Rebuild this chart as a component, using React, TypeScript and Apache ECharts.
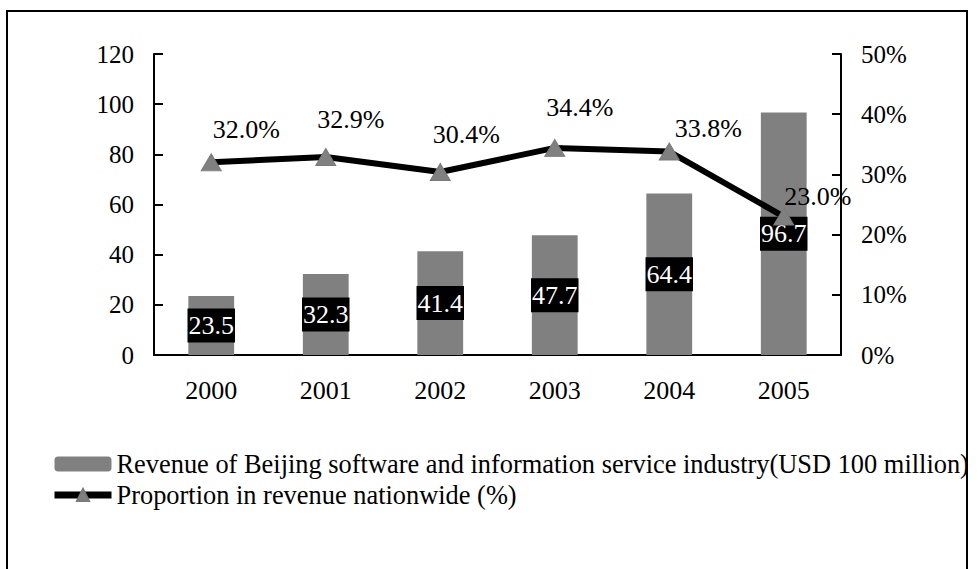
import React, { useEffect, useRef } from "react";
import * as echarts from "echarts";

const years = ["2000", "2001", "2002", "2003", "2004", "2005"];
const revenue = [23.5, 32.3, 41.4, 47.7, 64.4, 96.7];
const proportion = [32.0, 32.9, 30.4, 34.4, 33.8, 23.0];
const leftTicks = { min: 0, max: 120, interval: 20 };
const rightTicks = { min: 0, max: 50, interval: 10 };
const revenueName =
  "Revenue of Beijing software and information service industry(USD 100 million)";
const proportionName = "Proportion in revenue nationwide (%)";

// label nudges (style only)
const lineLabelOffsets = [
  [35, -33],
  [25, -37],
  [26, -37],
  [25, -40],
  [39, -23],
  [34, -20],
];

const FONT = "Liberation Serif, Times New Roman, serif";

export default function App() {
  const ref = useRef<HTMLDivElement>(null);
  useEffect(() => {
    if (!ref.current) return;
    const chart = echarts.init(ref.current, null, { renderer: "svg" });
    chart.setOption({
      animation: false,
      backgroundColor: "#ffffff",
      textStyle: { fontFamily: FONT, color: "#000" },
      grid: { left: 154, right: 138, top: 54, bottom: 214 },
      legend: {
        orient: "vertical",
        left: 51,
        top: 451,
        padding: 0,
        itemWidth: 57,
        itemHeight: 15,
        itemGap: 5,
        textStyle: { fontFamily: FONT, fontSize: 26.4, color: "#000" },
        data: [
          { name: revenueName },
          { name: proportionName, lineStyle: { width: 7, color: "#000" } },
        ],
      },
      graphic: [
        {
          type: "rect",
          shape: { x: 7, y: 11, width: 960, height: 600 },
          style: { fill: "none", stroke: "#000", lineWidth: 2 },
          silent: true,
        },
      ],
      xAxis: {
        type: "category",
        data: years,
        axisLine: { lineStyle: { color: "#000", width: 2 } },
        axisTick: { inside: true, length: 8, lineStyle: { color: "#000", width: 2 } },
        axisLabel: { fontFamily: FONT, fontSize: 26, color: "#000", margin: 22 },
      },
      yAxis: [
        {
          type: "value",
          min: leftTicks.min,
          max: leftTicks.max,
          interval: leftTicks.interval,
          axisLine: { show: true, lineStyle: { color: "#000", width: 2 } },
          axisTick: { show: true, inside: true, length: 9, lineStyle: { color: "#000", width: 2 } },
          splitLine: { show: false },
          axisLabel: { fontFamily: FONT, fontSize: 25, color: "#000", margin: 20 },
        },
        {
          type: "value",
          position: "right",
          min: rightTicks.min,
          max: rightTicks.max,
          interval: rightTicks.interval,
          axisLine: { show: true, lineStyle: { color: "#000", width: 2 } },
          axisTick: { show: true, inside: true, length: 9, lineStyle: { color: "#000", width: 2 } },
          splitLine: { show: false },
          axisLabel: {
            fontFamily: FONT,
            fontSize: 25,
            color: "#000",
            margin: 20,
            formatter: "{value}%",
          },
        },
      ],
      series: [
        {
          name: revenueName,
          type: "bar",
          data: revenue,
          barWidth: "40%",
          itemStyle: { color: "#808080" },
          label: {
            show: true,
            position: "inside",
            fontFamily: FONT,
            fontSize: 26,
            color: "#fff",
            backgroundColor: "#000",
            padding: [3, 1, 2, 1],
            lineHeight: 29,
            formatter: (p: any) => Number(p.value).toFixed(1),
          },
        },
        {
          name: proportionName,
          type: "line",
          yAxisIndex: 1,
          data: proportion.map((v, i) => ({
            value: v,
            label: { offset: lineLabelOffsets[i] },
          })),
          symbol: "triangle",
          symbolSize: [20, 17],
          itemStyle: { color: "#808080", borderColor: "#7a7a7a", borderWidth: 1 },
          lineStyle: { color: "#000", width: 6 },
          z: 3,
          label: {
            show: true,
            position: "inside",
            fontFamily: FONT,
            fontSize: 26,
            color: "#000",
            formatter: (p: any) => Number(p.value).toFixed(1) + "%",
          },
        },
      ],
    });
    return () => chart.dispose();
  }, []);
  return (
    <div
      ref={ref}
      style={{ position: "fixed", left: 0, top: 0, width: 979, height: 569 }}
    />
  );
}
